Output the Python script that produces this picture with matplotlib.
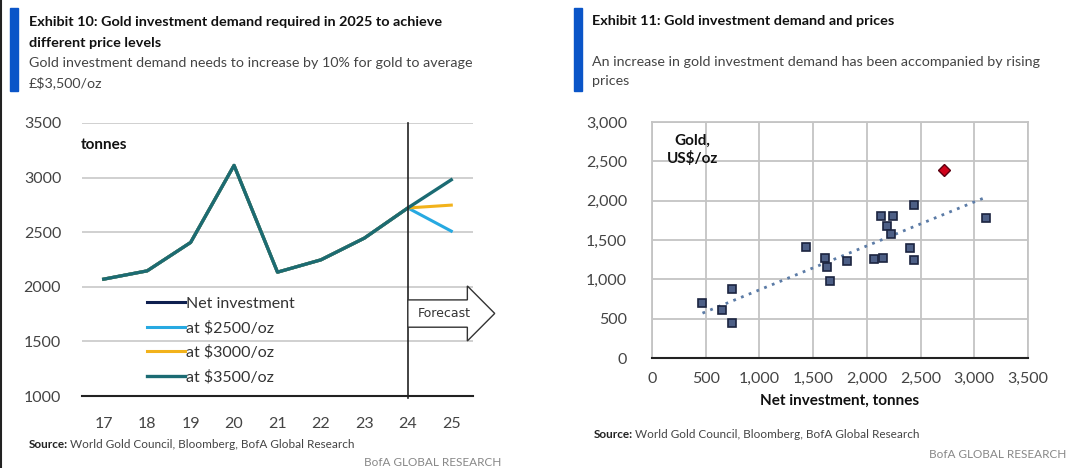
import matplotlib.pyplot as plt
import matplotlib.patches as mpatches
from matplotlib.ticker import FuncFormatter

plt.rcParams['font.family'] = ['Lato', 'DejaVu Sans']

# Exhibit 10 data
anios = [17, 18, 19, 20, 21, 22, 23, 24]
inversion_neta = [2070, 2146, 2406, 3112, 2134, 2247, 2446, 2722]
anio_pronostico = 25
pronostico_2500 = 2510
pronostico_3000 = 2748
pronostico_3500 = 2980

# Exhibit 11 data
inversion_x = [470, 650, 743, 749, 1433, 1610, 1625, 1656, 1811, 2071, 2136,
               2149, 2245, 2189, 2226, 2402, 2443, 2440, 3111]
precio_y = [700, 607, 874, 450, 1413, 1273, 1163, 976, 1227, 1261, 1804,
            1273, 1804, 1672, 1575, 1396, 1944, 1252, 1774]
punto_2024_x = [2718]
punto_2024_y = [2390]
tendencia_x = [470, 3100]
tendencia_y = [570, 2040]

W, H = 1080, 468
fig = plt.figure(figsize=(W / 100, H / 100), dpi=100)

def caja(x0, y0, x1, y1):
    # pixeles de la imagen -> fraccion de figura
    return [x0 / W, 1 - y1 / H, (x1 - x0) / W, (y1 - y0) / H]

def px(x, y):
    return x / W, 1 - y / H

gris_texto = '#444444'
azul_barra = '#0a55c8'

# borde izquierdo
fig.add_artist(plt.Line2D([0.001, 0.001], [0, 1], color='#222222', lw=1.5))

# ---- encabezados ----
fig.add_artist(mpatches.Rectangle(px(10, 91), 8 / W, 83 / H, color=azul_barra, transform=fig.transFigure))
fig.add_artist(mpatches.Rectangle(px(574, 91), 8 / W, 83 / H, color=azul_barra, transform=fig.transFigure))

fig.text(*px(29, 22), 'Exhibit 10: Gold investment demand required in 2025 to achieve',
         fontsize=10.4, fontweight='bold', va='center', color='#111111')
fig.text(*px(29, 43), 'different price levels', fontsize=10.4, fontweight='bold', va='center', color='#111111')
fig.text(*px(29, 63), 'Gold investment demand needs to increase by 10% for gold to average',
         fontsize=10.3, va='center', color=gris_texto)
fig.text(*px(29, 83), '£$3,500/oz', fontsize=10.3, va='center', color=gris_texto)

fig.text(*px(592, 21), 'Exhibit 11: Gold investment demand and prices',
         fontsize=10.4, fontweight='bold', va='center', color='#111111')
fig.text(*px(592, 62), 'An increase in gold investment demand has been accompanied by rising',
         fontsize=10.3, va='center', color=gris_texto)
fig.text(*px(592, 81), 'prices', fontsize=10.3, va='center', color=gris_texto)

# ---- Exhibit 10 ----
ax1 = fig.add_axes(caja(82, 123, 473, 396))
ax1.set_xlim(16.5, 25.5)
ax1.set_ylim(1000, 3500)
for s in ['top', 'right', 'left']:
    ax1.spines[s].set_visible(False)
ax1.spines['bottom'].set_color('#222222')
ax1.spines['bottom'].set_linewidth(1.5)
ax1.set_yticks([1000, 1500, 2000, 2500, 3000, 3500])
ax1.set_xticks(anios + [anio_pronostico])
ax1.tick_params(length=0, labelsize=11.5, labelcolor='#444444', pad=15)
ax1.grid(axis='y', color='#c8c8c8', lw=1.2)
ax1.set_axisbelow(True)

x_todo = anios + [anio_pronostico]
ax1.plot(anios, inversion_neta, color='#0e1f4f', lw=2.2, label='Net investment')
ax1.plot(x_todo, inversion_neta + [pronostico_2500], color='#27a9e1', lw=2.2, label='at $2500/oz')
ax1.plot(x_todo, inversion_neta + [pronostico_3000], color='#f2b21b', lw=2.2, label='at $3000/oz')
ax1.plot(x_todo, inversion_neta + [pronostico_3500], color='#1b6b73', lw=2.4, label='at $3500/oz')

ax1.plot([24, 24], [3500, 985], color='#222222', lw=1.2, clip_on=False, zorder=5)

# flecha de pronostico
flecha = [(24.0, 1880), (25.37, 1880), (25.37, 2008), (26.0, 1756), (25.37, 1504),
          (25.37, 1630), (24.0, 1630)]
ax1.add_patch(mpatches.Polygon(flecha, closed=True, facecolor='white', edgecolor='#333333',
                               lw=1.0, clip_on=False, zorder=6))
ax1.text(24.84, 1756, 'Forecast', fontsize=9, ha='center', va='center', color='#333333', zorder=7,
         fontfamily='Liberation Sans Narrow')

ax1.text(16.47, 3300, 'tonnes', fontsize=11, fontweight='bold', va='center', color='#111111')

ax1.legend(loc='upper left', bbox_to_anchor=(0.165, 0.365), frameon=False, fontsize=11.5,
           handlelength=2.4, handletextpad=0.1, labelspacing=0.63, borderpad=0, borderaxespad=0,
           labelcolor='#333333')

fig.text(*px(29, 445), 'Source:', fontsize=8.5, fontweight='bold', va='center', color='#222222')
fig.text(*px(70, 445), 'World Gold Council, Bloomberg, BofA Global Research', fontsize=8.5,
         va='center', color='#444444')
fig.text(*px(501, 462), 'BofA GLOBAL RESEARCH', fontsize=8.5, ha='right', va='center', color='#888888')

# ---- Exhibit 11 ----
ax2 = fig.add_axes(caja(652, 122, 1028, 358))
ax2.set_xlim(0, 3500)
ax2.set_ylim(0, 3000)
ax2.set_xticks(range(0, 3501, 500))
ax2.set_yticks(range(0, 3001, 500))
miles = FuncFormatter(lambda v, p: f'{int(v):,}')
ax2.xaxis.set_major_formatter(miles)
ax2.yaxis.set_major_formatter(miles)
ax2.tick_params(length=0, labelsize=11.5, labelcolor='#444444')
ax2.tick_params(axis='y', pad=18)
ax2.tick_params(axis='x', pad=10)
ax2.grid(color='#c4c4c4', lw=1.3)
ax2.set_axisbelow(True)
for s in ['top', 'right', 'left']:
    ax2.spines[s].set_color('#c4c4c4')
    ax2.spines[s].set_linewidth(1.3)
ax2.spines['bottom'].set_color('#222222')
ax2.spines['bottom'].set_linewidth(1.5)

ax2.plot(tendencia_x, tendencia_y, color='#5b7ba6', lw=2, ls=(0, (1, 2)))
ax2.plot(inversion_x, precio_y, ls='none', marker='s', ms=5.5, mfc='#4d5f86', mec='#1b2440', mew=1.2)
ax2.plot(punto_2024_x, punto_2024_y, ls='none', marker='D', ms=6, mfc='#d0021b', mec='#5a0010', mew=1)

ax2.text(380, 2850, 'Gold,\nUS$/oz', fontsize=11, fontweight='bold', ha='center', va='top',
         color='#111111', linespacing=1.3)
ax2.set_xlabel('Net investment, tonnes', fontsize=11, fontweight='bold', color='#111111', labelpad=6)

fig.text(*px(594, 435), 'Source:', fontsize=8.5, fontweight='bold', va='center', color='#222222')
fig.text(*px(635, 435), 'World Gold Council, Bloomberg, BofA Global Research', fontsize=8.5,
         va='center', color='#444444')
fig.text(*px(1066, 454), 'BofA GLOBAL RESEARCH', fontsize=8.5, ha='right', va='center', color='#888888')

plt.savefig('out.png', dpi=100)
